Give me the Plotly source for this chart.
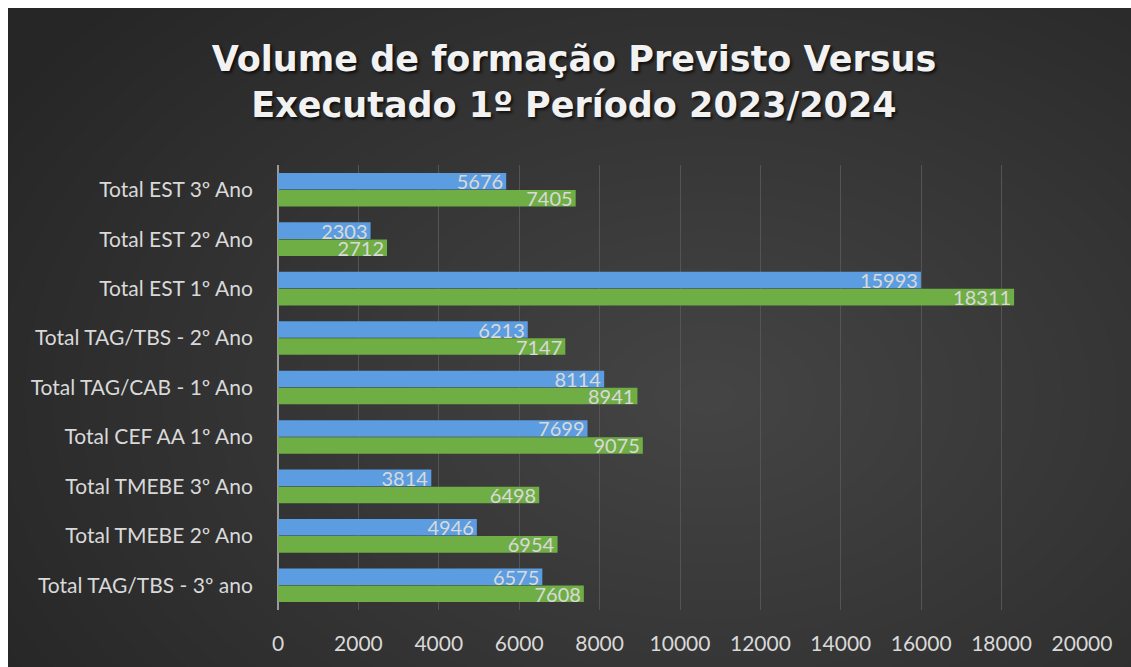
import plotly.graph_objects as go

categories = [
    "Total TAG/TBS - 3º ano",
    "Total TMEBE 2º Ano",
    "Total TMEBE 3º Ano",
    "Total CEF AA 1º Ano",
    "Total TAG/CAB - 1º Ano",
    "Total TAG/TBS - 2º Ano",
    "Total EST 1º Ano",
    "Total EST 2º Ano",
    "Total EST 3º Ano",
]
previsto = [6575, 4946, 3814, 7699, 8114, 6213, 15993, 2303, 5676]
executado = [7608, 6954, 6498, 9075, 8941, 7147, 18311, 2712, 7405]
x_ticks = [0, 2000, 4000, 6000, 8000, 10000, 12000, 14000, 16000, 18000, 20000]

# figure is placed at (8, 8) in the page
W, H = 1123, 659
L, T = 270, 157
R = W - 1074
B = H - 604
pw, ph = W - L - R, H - T - B

def px_x(p):
    return (p - L) / pw

def px_y(p):
    return (H - B - p) / ph

fig = go.Figure()
label_font = dict(family="Lato, Open Sans, sans-serif", size=20, color="#d9d9d9")
fig.add_trace(go.Bar(
    y=categories, x=executado, orientation="h", name="Executado",
    marker=dict(color="#6fae45", line=dict(width=0)),
    text=executado, textposition="inside", insidetextanchor="end",
    textfont=label_font, textangle=0, constraintext="none", cliponaxis=False,
))
fig.add_trace(go.Bar(
    y=categories, x=previsto, orientation="h", name="Previsto",
    marker=dict(color="#5b9de0", line=dict(width=0)),
    text=previsto, textposition="inside", insidetextanchor="end",
    textfont=label_font, textangle=0, constraintext="none", cliponaxis=False,
))

shapes = [dict(type="rect", xref="paper", yref="paper",
               x0=px_x(-10), x1=px_x(W + 10), y0=px_y(-10), y1=px_y(H + 10),
               fillcolor="#262626", line=dict(width=0), layer="below")]
cx, cy = 700, 390
n = 30
for i in range(n):
    f = 1 - i / n
    rx = 820 * f
    ry = 560 * f
    shapes.append(dict(type="circle", xref="paper", yref="paper",
                       x0=px_x(cx - rx), x1=px_x(cx + rx),
                       y0=px_y(cy - ry), y1=px_y(cy + ry),
                       fillcolor="rgba(255,255,255,0.0085)", line=dict(width=0),
                       layer="below"))

fig.update_layout(
    width=W, height=H,
    margin=dict(l=L, r=R, t=T, b=B, pad=0),
    paper_bgcolor="#262626",
    plot_bgcolor="rgba(0,0,0,0)",
    barmode="group", bargap=0.31, bargroupgap=0.03,
    showlegend=False,
    shapes=shapes,
    title=dict(
        text="Volume de formação Previsto Versus<br>Executado 1º Período 2023/2024",
        x=566 / W, xanchor="center", y=1 - 63 / H, yanchor="middle",
        font=dict(family="DejaVu Sans, sans-serif", size=35, color="#f2f2f2",
                  weight="bold", shadow="2px 2px 3px rgba(0,0,0,0.7)"),
    ),
    xaxis=dict(
        range=[0, 20000], tickvals=x_ticks, ticktext=[str(v) for v in x_ticks],
        showgrid=True, gridcolor="#545454", gridwidth=1.3,
        zeroline=True, zerolinecolor="#9a9a9a", zerolinewidth=2,
        tickfont=dict(family="Lato, Open Sans, sans-serif", size=21, color="#d9d9d9"),
        ticks="outside", ticklen=15, tickcolor="rgba(0,0,0,0)", showline=False,
    ),
    yaxis=dict(
        tickfont=dict(family="Lato, Open Sans, sans-serif", size=21, color="#d9d9d9"),
        ticks="outside", ticklen=20, tickcolor="rgba(0,0,0,0)",
        showgrid=False, zeroline=False, showline=False,
    ),
)

fig.write_html(
    "out.html",
    post_script="document.body.style.margin='8px 0 0 8px';document.body.style.overflow='hidden';",
)
